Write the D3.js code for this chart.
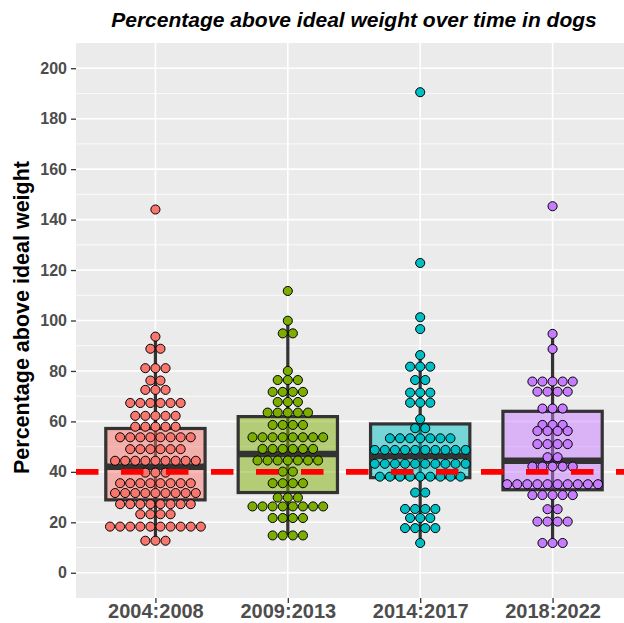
<!DOCTYPE html>
<html lang="en">
<head>
  <meta charset="UTF-8">
  <title>Percentage above ideal weight over time in dogs</title>
  <script src="https://d3js.org/d3.v7.min.js"></script>
  <style>
    body { margin: 0; background: #ffffff; }
    svg { display: block; font-family: "Liberation Sans", Arial, sans-serif; }
  </style>
</head>
<body>
  <svg id="chart"></svg>

  <script>
    // groups on the x axis and their colours
    const groups = ["2004:2008", "2009:2013", "2014:2017", "2018:2022"];
    const fills = ["#F8766D", "#7CAE00", "#00BFC4", "#C77CFF"];

    // dot rows: [bin centre (%), number of dogs]
    const rows2004 = [[144.0, 1], [93.6, 1], [88.8, 2], [81.1, 3], [76.2, 2], [72.5, 3], [67.3, 6],
      [62.2, 5], [57.9, 5], [53.7, 8], [49.0, 6], [44.4, 9], [39.7, 3], [35.5, 8], [31.6, 9],
      [27.2, 8], [23.2, 4], [18.3, 10], [12.7, 3]];
    const rows2009 = [[111.7, 1], [99.9, 1], [94.9, 2], [80.0, 1], [76.4, 3], [71.7, 4], [67.7, 3],
      [63.5, 5], [58.6, 4], [53.7, 8], [49.1, 6], [44.5, 7], [40.1, 2], [35.5, 4], [29.8, 3],
      [26.3, 8], [21.7, 4], [14.8, 4]];
    const rows2014 = [[190.5, 1], [122.8, 1], [101.3, 1], [96.6, 1], [86.3, 1], [81.7, 3], [76.4, 2],
      [71.4, 3], [67.4, 3], [60.9, 1], [57.3, 2], [53.3, 7], [48.7, 10], [43.2, 10], [38.1, 9],
      [31.8, 2], [25.3, 4], [21.7, 3], [17.7, 4], [11.8, 1]];
    const rows2018 = [[145.3, 1], [94.7, 1], [88.7, 1], [75.8, 5], [71.8, 4], [65.1, 3], [58.6, 3],
      [56.2, 4], [51.0, 4], [45.8, 2], [42.1, 5], [35.1, 10], [30.8, 5], [25.2, 2], [20.3, 4],
      [11.8, 3]];

    // box plot statistics
    const boxLower = [12.7, 14.8, 11.8, 11.8];
    const boxQ1 = [28.9, 31.8, 37.7, 32.9];
    const boxMedian = [42.0, 47.1, 46.3, 44.4];
    const boxQ3 = [57.2, 61.9, 59.0, 64.0];
    const boxUpper = [93.6, 99.9, 86.3, 94.7];

    const idealLine = 40;
    const yTicks = [0, 20, 40, 60, 80, 100, 120, 140, 160, 180, 200];
    const yMinor = [10, 30, 50, 70, 90, 110, 130, 150, 170, 190];
    const binwidth = 4;

    const width = 624, height = 623;
    const panel = { left: 76, right: 632, top: 43, bottom: 598 };

    const svg = d3.select("#chart").attr("width", width).attr("height", height);

    const x = d3.scalePoint().domain(groups).range([panel.left, panel.right]).padding(0.6);
    const y = d3.scaleLinear().domain([-10, 210]).range([panel.bottom, panel.top]);
    const step = x.step();
    const boxW = step * 0.75;

    // panel background + grid
    svg.append("rect")
      .attr("x", panel.left).attr("y", panel.top)
      .attr("width", panel.right - panel.left).attr("height", panel.bottom - panel.top)
      .attr("fill", "#EBEBEB");

    svg.append("g").selectAll("line").data(yMinor).join("line")
      .attr("x1", panel.left).attr("x2", panel.right)
      .attr("y1", d => y(d)).attr("y2", d => y(d))
      .attr("stroke", "#fff").attr("stroke-width", 0.8);
    svg.append("g").selectAll("line").data(yTicks).join("line")
      .attr("x1", panel.left).attr("x2", panel.right)
      .attr("y1", d => y(d)).attr("y2", d => y(d))
      .attr("stroke", "#fff").attr("stroke-width", 1.6);
    svg.append("g").selectAll("line").data(groups).join("line")
      .attr("x1", d => x(d)).attr("x2", d => x(d))
      .attr("y1", panel.top).attr("y2", panel.bottom)
      .attr("stroke", "#fff").attr("stroke-width", 1.6);

    const plot = svg.append("g");

    // whiskers
    plot.selectAll("line.whisker").data(groups).join("line")
      .attr("class", "whisker")
      .attr("x1", d => x(d)).attr("x2", d => x(d))
      .attr("y1", (d, i) => y(boxLower[i])).attr("y2", (d, i) => y(boxUpper[i]))
      .attr("stroke", "#333333").attr("stroke-width", 3.2);

    // boxes
    plot.selectAll("rect.box").data(groups).join("rect")
      .attr("class", "box")
      .attr("x", d => x(d) - boxW / 2).attr("width", boxW)
      .attr("y", (d, i) => y(boxQ3[i]))
      .attr("height", (d, i) => y(boxQ1[i]) - y(boxQ3[i]))
      .attr("fill", (d, i) => fills[i]).attr("fill-opacity", 0.5)
      .attr("stroke", "#333333").attr("stroke-width", 3.2);

    plot.selectAll("line.median").data(groups).join("line")
      .attr("class", "median")
      .attr("x1", d => x(d) - boxW / 2).attr("x2", d => x(d) + boxW / 2)
      .attr("y1", (d, i) => y(boxMedian[i])).attr("y2", (d, i) => y(boxMedian[i]))
      .attr("stroke", "#333333").attr("stroke-width", 6.4);

    // dots, stacked about the centre of each group
    const diam = y(0) - y(binwidth);
    const allRows = [rows2004, rows2009, rows2014, rows2018];
    const dots = [];
    allRows.forEach((rows, gi) => {
      rows.forEach(([v, n]) => {
        for (let k = 0; k < n; k++) {
          dots.push({ g: groups[gi], gi, v, off: k - (n - 1) / 2 });
        }
      });
    });

    plot.append("g").selectAll("circle").data(dots).join("circle")
      .attr("cx", d => x(d.g) + d.off * diam)
      .attr("cy", d => y(d.v))
      .attr("r", diam / 2 - 0.5)
      .attr("fill", d => fills[d.gi])
      .attr("stroke", "#000").attr("stroke-width", 1);

    // ideal weight reference line
    svg.append("line")
      .attr("x1", panel.left).attr("x2", panel.right)
      .attr("y1", y(idealLine)).attr("y2", y(idealLine))
      .attr("stroke", "#FF0000").attr("stroke-width", 5.6)
      .attr("stroke-dasharray", "22.5 22.5");

    // axes
    const yAxis = svg.append("g")
      .attr("transform", `translate(${panel.left},0)`)
      .call(d3.axisLeft(y).tickValues(yTicks).tickSize(5).tickPadding(4));
    const xAxis = svg.append("g")
      .attr("transform", `translate(0,${panel.bottom})`)
      .call(d3.axisBottom(x).tickSize(5).tickPadding(1));

    [yAxis, xAxis].forEach(a => {
      a.select(".domain").remove();
      a.selectAll(".tick line").attr("stroke", "#333333").attr("stroke-width", 1.3);
      a.selectAll(".tick text")
        .attr("fill", "#4D4D4D")
        .attr("font-weight", "bold")
        .attr("font-family", "Liberation Sans, Arial, sans-serif");
    });
    yAxis.selectAll(".tick text").attr("font-size", 16);
    xAxis.selectAll(".tick text").attr("font-size", 20);

    // titles
    svg.append("text")
      .attr("x", (panel.left + panel.right) / 2).attr("y", 27)
      .attr("text-anchor", "middle")
      .attr("font-size", 21).attr("font-weight", "bold").attr("font-style", "italic")
      .attr("fill", "#000")
      .text("Percentage above ideal weight over time in dogs");

    svg.append("text")
      .attr("transform", `translate(29,${(panel.top + panel.bottom) / 2 - 3}) rotate(-90)`)
      .attr("text-anchor", "middle")
      .attr("font-size", 21.5).attr("font-weight", "bold")
      .attr("fill", "#000")
      .text("Percentage above ideal weight");
  </script>
</body>
</html>
